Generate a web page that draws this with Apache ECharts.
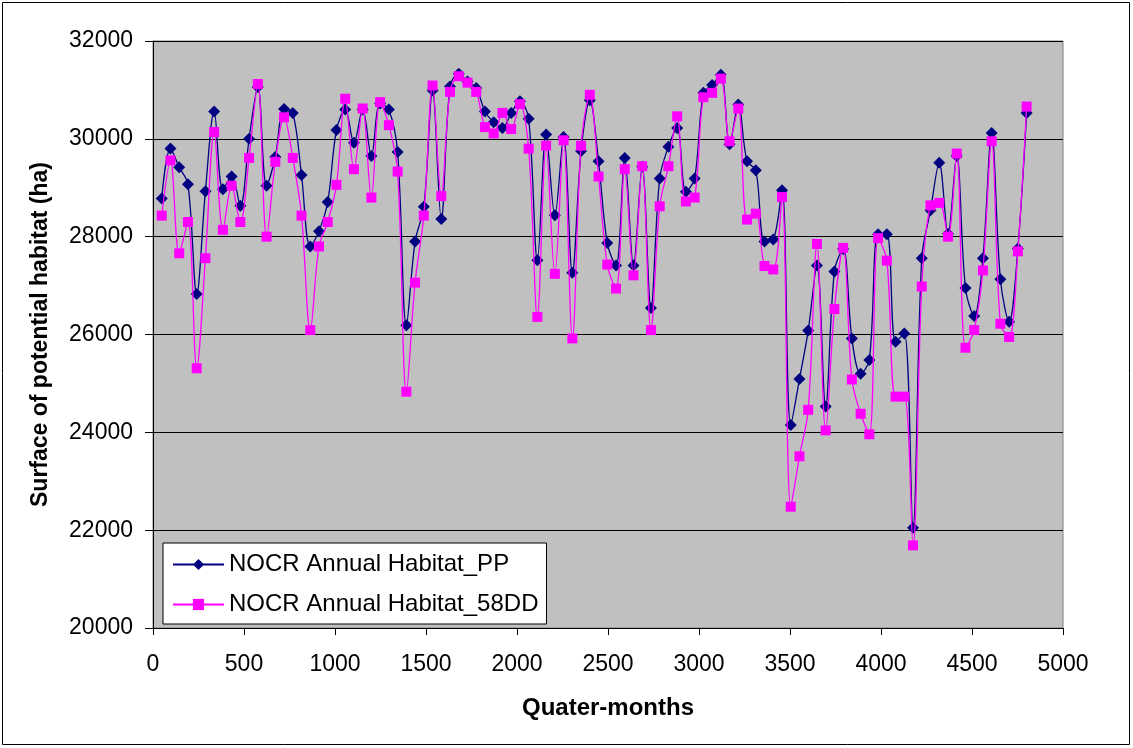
<!DOCTYPE html>
<html>
<head>
<meta charset="utf-8">
<script src="https://cdn.jsdelivr.net/npm/echarts@6/dist/echarts.min.js"></script>
<style>
html,body{margin:0;padding:0;background:#fff;}
#c{width:1133px;height:748px;}
</style>
</head>
<body>
<div id="c"></div>
<script>
var quarterMonths = [48,96,144,192,240,288,336,384,432,480,528,576,624,672,720,768,816,864,912,960,
1008,1056,1104,1152,1200,1248,1296,1344,1392,1440,1488,1536,1584,1632,1680,1728,1776,1824,1872,1920,
1968,2016,2064,2112,2160,2208,2256,2304,2352,2400,2448,2496,2544,2592,2640,2688,2736,2784,2832,2880,
2928,2976,3024,3072,3120,3168,3216,3264,3312,3360,3408,3456,3504,3552,3600,3648,3696,3744,3792,3840,
3888,3936,3984,4032,4080,4128,4176,4224,4272,4320,4368,4416,4464,4512,4560,4608,4656,4704,4752,4800];

var habitatPP = [28780,29800,29420,29070,26830,28930,30560,28970,29230,28630,
30000,31060,29040,29630,30610,30530,29260,27800,28110,28710,
30180,30600,29920,30600,29650,30720,30600,29730,26190,27900,
28610,30990,28360,31070,31330,31170,31040,30560,30340,30220,
30530,30770,30410,27520,30090,28440,30040,27260,29750,30790,
29540,27870,27410,29610,27410,29430,26540,29190,29840,30220,
28920,29190,30940,31100,31310,29890,30700,29540,29360,27900,
27940,28950,24150,25090,26080,27410,24530,27290,27750,25920,
25200,25480,28050,28050,25850,26020,22050,27560,28540,29510,
28060,29650,26950,26380,27560,30120,27130,26260,27760,30530];

var habitat58DD = [28430,29560,27660,28300,25310,27560,30140,28140,29040,28300,
29610,31120,28000,29530,30440,29610,28430,26090,27800,28300,
29060,30820,29380,30620,28800,30750,30280,29330,24830,27060,
28430,31090,28830,30960,31280,31150,30960,30240,30110,30530,
30200,30710,29800,26360,29860,27240,29970,25920,29860,30900,
29230,27430,26940,29380,27210,29440,26090,28620,29440,30460,
28720,28800,30850,30940,31230,29950,30620,28350,28470,27400,
27330,28810,22480,23510,24460,27850,24040,26520,27770,25080,
24380,23960,27970,27510,24730,24730,21690,26980,28640,28690,
28000,29700,25730,26090,27310,29950,26220,25950,27700,30660];

var seriesNames = ['NOCR Annual Habitat_PP', 'NOCR Annual Habitat_58DD'];
var xTitle = 'Quater-months';
var yTitle = 'Surface of potential habitat (ha)';

function pairs(ys){ return quarterMonths.map(function(x,i){ return [x, ys[i]]; }); }
function plain(v){ return String(v); }

var FONT = '"Liberation Sans", Arial, sans-serif';
var chart = echarts.init(document.getElementById('c'), null, {renderer:'canvas'});
chart.setOption({
  animation:false,
  backgroundColor:'#ffffff',
  textStyle:{fontFamily:FONT},
  graphic:[{
    type:'rect', silent:true, z:-10,
    shape:{x:2.5, y:2.5, width:1127, height:742},
    style:{fill:null, stroke:'#000', lineWidth:1}
  }],
  grid:{left:153, top:41, right:70, bottom:120, show:true,
        backgroundColor:'#C0C0C0', borderColor:'#808080', borderWidth:1, containLabel:false},
  xAxis:{
    type:'value', min:0, max:5000, interval:500,
    name:xTitle, nameLocation:'middle', nameGap:68,
    nameTextStyle:{fontFamily:FONT, fontSize:24, fontWeight:'bold', color:'#000'},
    axisLine:{show:true, onZero:false, lineStyle:{color:'#000', width:1}},
    axisTick:{show:true, inside:false, length:7, lineStyle:{color:'#000'}},
    axisLabel:{fontFamily:FONT, fontSize:23, color:'#000', margin:25, formatter:plain},
    splitLine:{show:false}
  },
  yAxis:{
    type:'value', min:20000, max:32000, interval:2000,
    name:yTitle, nameLocation:'middle', nameGap:101, nameRotate:90,
    nameTextStyle:{fontFamily:FONT, fontSize:23, fontWeight:'bold', color:'#000'},
    axisLine:{show:true, lineStyle:{color:'#000', width:1}},
    axisTick:{show:true, inside:false, length:8, lineStyle:{color:'#000'}},
    axisLabel:{fontFamily:FONT, fontSize:23, color:'#000', margin:20, formatter:plain},
    splitLine:{show:true, lineStyle:{color:'#000', width:1}}
  },
  legend:{
    orient:'vertical', left:163, top:543,
    backgroundColor:'#ffffff', borderColor:'#000', borderWidth:1,
    padding:[9,8,7,9], itemGap:15, itemWidth:51, itemHeight:14,
    textStyle:{fontFamily:FONT, fontSize:24, color:'#000', lineHeight:25},
    data:seriesNames
  },
  series:[{
    name:seriesNames[0], type:'line', data:pairs(habitatPP),
    smooth:0.35, symbol:'diamond', symbolSize:12, showAllSymbol:true,
    lineStyle:{color:'#000080', width:1.3},
    itemStyle:{color:'#000080', borderWidth:0},
    z:2
  },{
    name:seriesNames[1], type:'line', data:pairs(habitat58DD),
    smooth:0.35, symbol:'rect', symbolSize:10, showAllSymbol:true,
    lineStyle:{color:'#FF00FF', width:1.3},
    itemStyle:{color:'#FF00FF', borderWidth:0},
    z:3
  }]
});
</script>
</body>
</html>
